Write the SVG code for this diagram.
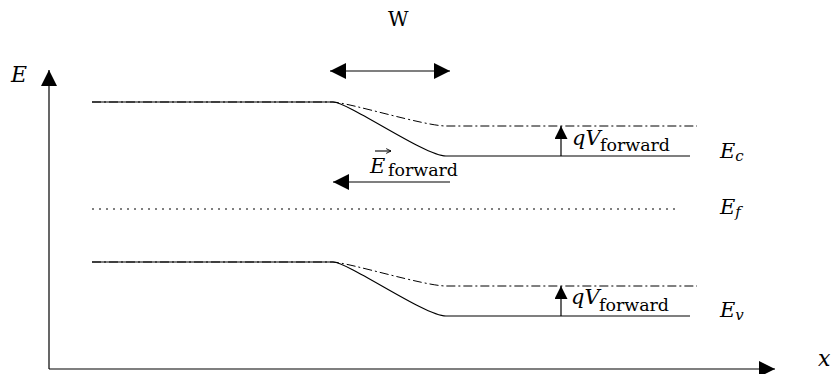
<svg xmlns="http://www.w3.org/2000/svg" width="833" height="374" viewBox="0 0 833 374">
<style>
.ln{fill:none;stroke:#000;stroke-width:1.2}
.dd{fill:none;stroke:#000;stroke-width:1;stroke-dasharray:9,3,2,3}
.dot{fill:none;stroke:#000;stroke-width:1;stroke-dasharray:2,5}
text{fill:#000}
.i{font-style:italic}
</style>
<defs>
<marker id="ah" viewBox="0 0 10 10" refX="10" refY="5" markerWidth="16" markerHeight="16" markerUnits="userSpaceOnUse" orient="auto-start-reverse">
<path d="M0,0 L10,5 L0,10 Z" fill="#000"/>
</marker>
<marker id="ahs" viewBox="0 0 10 10" refX="10" refY="5" markerWidth="13" markerHeight="13" markerUnits="userSpaceOnUse" orient="auto-start-reverse">
<path d="M0,0 L10,5 L0,10 Z" fill="#000"/>
</marker>
<marker id="vec" viewBox="0 0 10 10" refX="9" refY="5" markerWidth="6" markerHeight="6" markerUnits="userSpaceOnUse" orient="auto">
<path d="M1,1 L9,5 L1,9" fill="none" stroke="#000" stroke-width="1.5"/>
</marker>
</defs>
<g id="axes">
<line class="ln" x1="49" y1="369" x2="49" y2="70" marker-end="url(#ah)"/>
<line class="ln" x1="49" y1="369" x2="775" y2="369" marker-end="url(#ah)"/>
<text font-family="DejaVu Serif, serif" class="i" x="11" y="82" font-size="22">E</text>
<text font-family="DejaVu Serif, serif" class="i" x="818" y="366" font-size="22">x</text>
</g>
<g id="conduction-band">
<path class="ln" d="M92,102 L333,102 C350,103 425,156 446,156 L690,156"/>
<path class="dd" d="M92,102 L333,102 C350,103 425,126 446,126 L697,126"/>
<text font-family="DejaVu Serif, serif" class="i" x="720" y="158" font-size="21">E<tspan font-size="15" dy="3">c</tspan></text>
</g>
<g id="fermi-level">
<line class="dot" x1="92" y1="209" x2="680" y2="209"/>
<text font-family="DejaVu Serif, serif" class="i" x="720" y="214" font-size="21">E<tspan font-size="15" dy="3">f</tspan></text>
</g>
<g id="valence-band">
<path class="ln" d="M92,262 L333,262 C350,263 425,316 446,316 L690,316"/>
<path class="dd" d="M92,262 L333,262 C350,263 425,286 446,286 L697,286"/>
<text font-family="DejaVu Serif, serif" class="i" x="720" y="317" font-size="21">E<tspan font-size="15" dy="3">v</tspan></text>
</g>
<g id="connectors">
<line class="ln" x1="330" y1="71" x2="450" y2="71" marker-start="url(#ah)" marker-end="url(#ah)"/>
<line class="ln" x1="561" y1="156" x2="561" y2="126" marker-end="url(#ahs)"/>
<line class="ln" x1="561" y1="316" x2="561" y2="286" marker-end="url(#ahs)"/>
<line class="ln" x1="450" y1="182" x2="333" y2="182" marker-end="url(#ah)"/>
</g>
<g id="labels">
<text font-family="DejaVu Serif, serif" x="388" y="26" font-size="20">W</text>
<text font-family="DejaVu Serif, serif" x="572" y="145"><tspan class="i" font-size="21">qV</tspan><tspan font-size="16" dy="6" x="600" textLength="70" lengthAdjust="spacingAndGlyphs">forward</tspan></text>
<text font-family="DejaVu Serif, serif" x="571" y="304"><tspan class="i" font-size="21">qV</tspan><tspan font-size="16" dy="7" x="599" textLength="70" lengthAdjust="spacingAndGlyphs">forward</tspan></text>
<text font-family="DejaVu Serif, serif" x="370" y="173"><tspan class="i" font-size="21">E</tspan><tspan font-size="16" dy="3" x="388" textLength="70" lengthAdjust="spacingAndGlyphs">forward</tspan></text>
<line x1="375" y1="151" x2="391" y2="151" stroke="#000" stroke-width="1.1" marker-end="url(#vec)"/>
</g>
</svg>
